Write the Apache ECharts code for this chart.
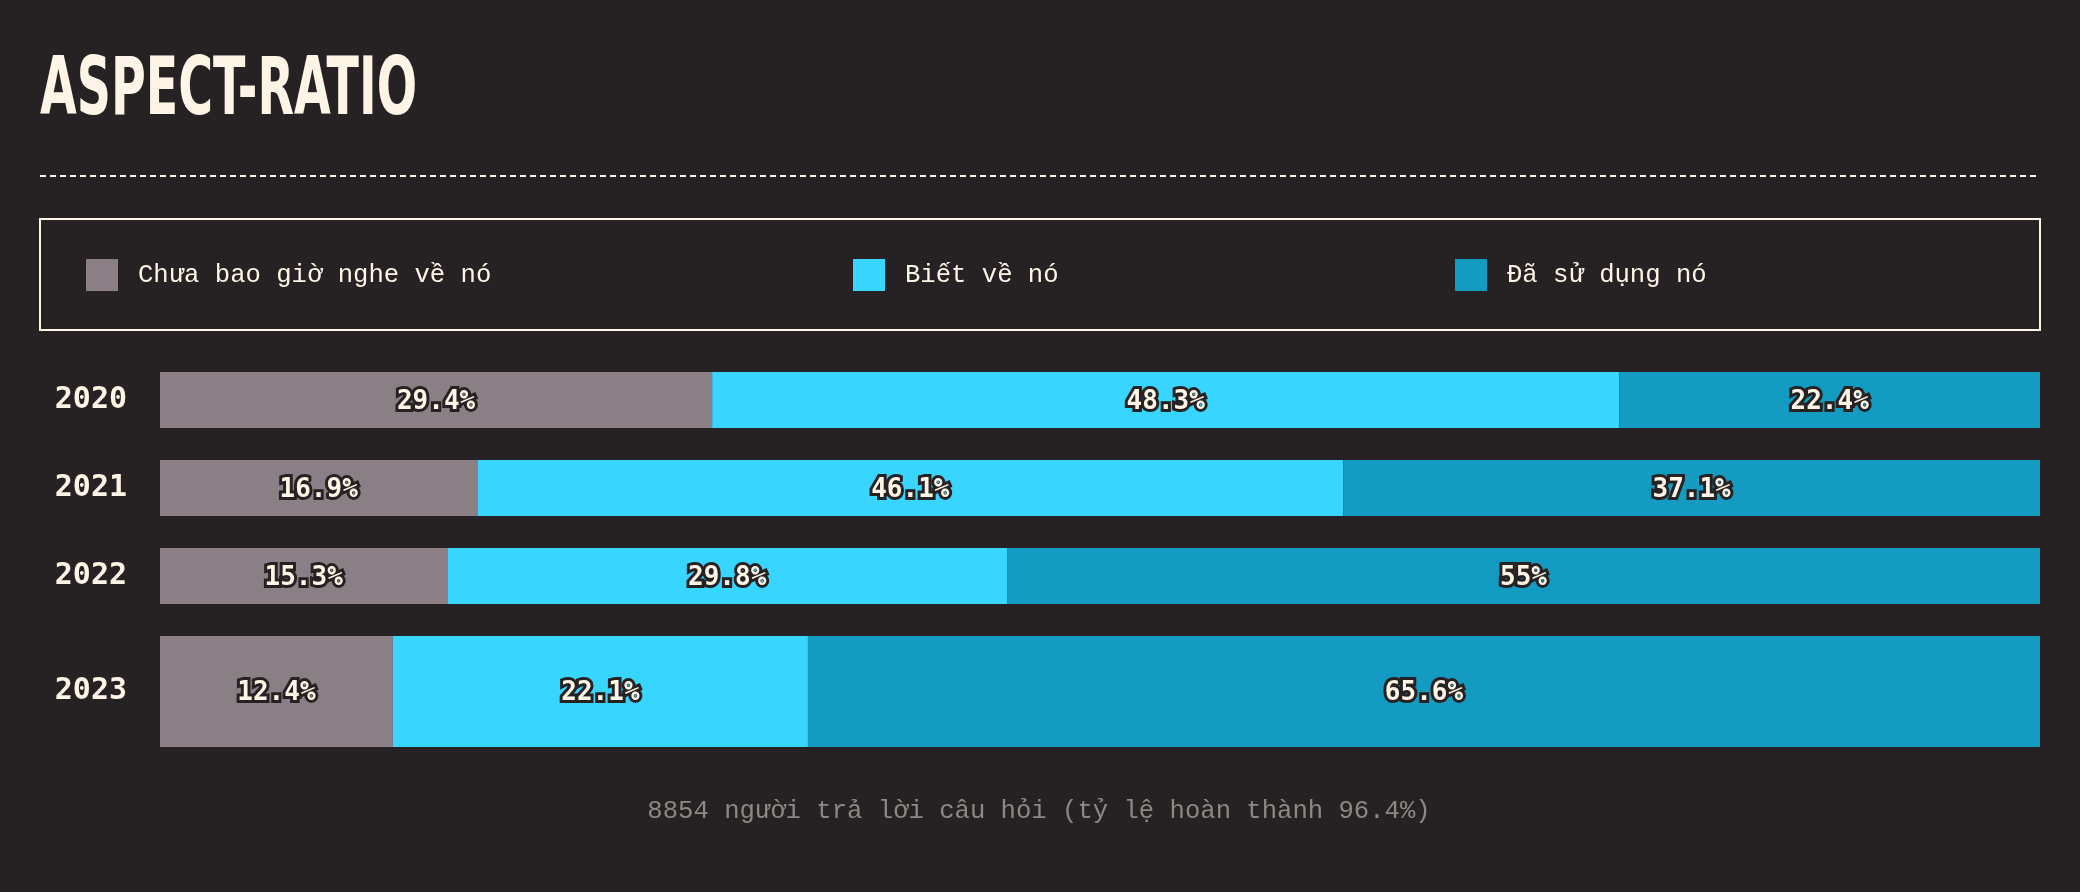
<!DOCTYPE html>
<html>
<head>
<meta charset="utf-8">
<title>Aspect-ratio</title>
<script src="https://cdn.jsdelivr.net/npm/echarts@6/dist/echarts.min.js"></script>
<style>
  html, body { margin: 0; padding: 0; background: #262223; }
  #chart { width: 2080px; height: 892px; }
</style>
</head>
<body>
<div id="chart"></div>
<script>
// ---------------------------------------------------
// Datos
// ---------------------------------------------------
const years = ['2020', '2021', '2022', '2023'];
const seriesNames = ['Chưa bao giờ nghe về nó', 'Biết về nó', 'Đã sử dụng nó'];
const neverHeard = [29.4, 16.9, 15.3, 12.4];
const knowAbout = [48.3, 46.1, 29.8, 22.1];
const usedIt = [22.4, 37.1, 55, 65.6];
const footNote = '8854 người trả lời câu hỏi (tỷ lệ hoàn thành 96.4%)';
const titleText = 'ASPECT-RATIO';

const colors = ['#8a7f85', '#38d5fe', '#139bc2'];
const cream = '#fff5e6';
const bg = '#262223';

// el ultimo año va en su propio grid porque su barra es mas gruesa
const mainCount = 3;
const values = [neverHeard, knowAbout, usedIt];
const maxTotal = Math.max(...years.map((y, i) => values.reduce((s, v) => s + v[i], 0)));

// ajustar el ancho del titulo (fuente condensada)
const titleFont = '"DejaVu Sans Condensed", "DejaVu Sans", sans-serif';
const ctx = document.createElement('canvas').getContext('2d');
ctx.font = 'bold 81px ' + titleFont;
const titleScale = 377 / ctx.measureText(titleText).width;

const labelStyle = {
  show: true,
  position: 'inside',
  offset: [0, 2],
  formatter: '{c}%',
  color: cream,
  fontFamily: '"DejaVu Sans Mono", monospace',
  fontWeight: 'bold',
  fontSize: 26,
  textBorderColor: bg,
  textBorderWidth: 6
};

const yLabel = {
  color: cream,
  fontFamily: '"DejaVu Sans Mono", monospace',
  fontWeight: 'bold',
  fontSize: 30,
  margin: 33
};

function makeSeries(gridIdx, from, to, width) {
  return seriesNames.map((name, k) => ({
    name: name,
    type: 'bar',
    stack: 'g' + gridIdx,
    xAxisIndex: gridIdx,
    yAxisIndex: gridIdx,
    barWidth: width,
    itemStyle: { color: colors[k] },
    label: labelStyle,
    emphasis: { disabled: true },
    data: values[k].slice(from, to)
  }));
}

const legendLefts = [86, 853, 1455];

const option = {
  backgroundColor: bg,
  animation: false,
  graphic: {
    elements: [
      {
        type: 'text',
        x: 40,
        y: 93,
        scaleX: titleScale,
        style: {
          text: titleText,
          fontFamily: titleFont,
          fontWeight: 'bold',
          fontSize: 81,
          fill: cream,
          verticalAlign: 'middle'
        }
      },
      {
        type: 'line',
        shape: { x1: 40, y1: 176, x2: 2040, y2: 176 },
        style: { stroke: cream, lineWidth: 2, lineDash: [6, 4] }
      },
      {
        type: 'rect',
        shape: { x: 40, y: 219, width: 2000, height: 111 },
        style: { fill: 'none', stroke: cream, lineWidth: 2 }
      },
      {
        type: 'text',
        x: 1039,
        y: 811,
        style: {
          text: footNote,
          fontFamily: '"Liberation Mono", monospace',
          fontSize: 25.6,
          fill: '#8c8882',
          align: 'center',
          verticalAlign: 'middle'
        }
      }
    ]
  },
  legend: seriesNames.map((name, i) => ({
    data: [name],
    left: legendLefts[i],
    top: 259,
    padding: 0,
    icon: 'rect',
    itemWidth: 32,
    itemHeight: 32,
    selectedMode: false,
    textStyle: {
      color: cream,
      fontFamily: '"Liberation Mono", monospace',
      fontSize: 25.6,
      padding: [0, 0, 0, 15]
    }
  })),
  grid: [
    { left: 160, right: 40, top: 356, height: 264 },
    { left: 160, right: 40, top: 636, height: 111 }
  ],
  xAxis: [0, 1].map(i => ({
    type: 'value',
    gridIndex: i,
    min: 0,
    max: maxTotal,
    show: false
  })),
  yAxis: [
    {
      type: 'category',
      gridIndex: 0,
      inverse: true,
      data: years.slice(0, mainCount),
      axisLine: { show: false },
      axisTick: { show: false },
      axisLabel: yLabel
    },
    {
      type: 'category',
      gridIndex: 1,
      inverse: true,
      data: years.slice(mainCount),
      axisLine: { show: false },
      axisTick: { show: false },
      axisLabel: yLabel
    }
  ],
  series: makeSeries(0, 0, mainCount, 56).concat(makeSeries(1, mainCount, years.length, 111))
};

const chart = echarts.init(document.getElementById('chart'));
chart.setOption(option);
</script>
</body>
</html>
